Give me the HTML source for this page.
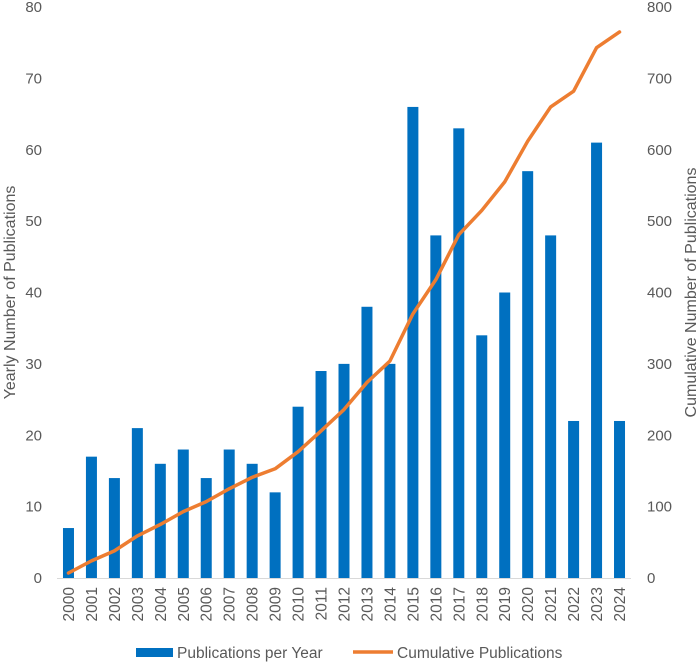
<!DOCTYPE html>
<html><head><meta charset="utf-8"><style>
body{margin:0;background:#fff}
svg text{font-family:"Liberation Sans",sans-serif;fill:#595959}
</style></head><body>
<svg id="c" width="700" height="662"></svg>
<script>
const years=["2000","2001","2002","2003","2004","2005","2006","2007","2008","2009","2010","2011","2012","2013","2014","2015","2016","2017","2018","2019","2020","2021","2022","2023","2024"];
const yearly=[7,17,14,21,16,18,14,18,16,12,24,29,30,38,30,66,48,63,34,40,57,48,22,61,22];
const cumulative=[7,24,38,59,75,93,107,125,141,153,177,206,236,274,304,370,418,481,515,555,612,660,682,743,765];
const leftTicks=[0,10,20,30,40,50,60,70,80];
const rightTicks=[0,100,200,300,400,500,600,700,800];
const NS="http://www.w3.org/2000/svg";
const svg=document.getElementById('c');
const L=57,R=631,T=7,B=578;
const bw=(R-L)/years.length;
const xc=i=>L+bw*(i+0.5);
const yl=v=>B-(B-T)*v/80;
const yr=v=>B-(B-T)*v/800;
function mk(t,a,txt){const e=document.createElementNS(NS,t);for(const k in a)e.setAttribute(k,a[k]);if(txt!==undefined)e.textContent=txt;svg.appendChild(e);return e;}
leftTicks.forEach(v=>{const e=mk('text',{x:42,y:yl(v)+5,'text-anchor':'end','font-size':15},v);

});
rightTicks.forEach(v=>{const e=mk('text',{x:647,y:yr(v)+5,'text-anchor':'start','font-size':15},v);

});
yearly.forEach((v,i)=>{const e=mk('rect',{x:xc(i)-5.5,y:yl(v),width:11,height:B-yl(v),fill:'#0070C0'});

});
const ax=mk('line',{x1:L,x2:R,y1:B+0.5,y2:B+0.5,stroke:'#D9D9D9','stroke-width':1});


const pl=mk('polyline',{points:cumulative.map((v,i)=>xc(i)+','+yr(v)).join(' '),fill:'none',stroke:'#ED7D31','stroke-width':3.5,'stroke-linejoin':'round','stroke-linecap':'round'});


years.forEach((y,i)=>{const e=mk('text',{x:0,y:0,'text-anchor':'end','font-size':15.5,transform:`translate(${xc(i)+5.5},${B+9}) rotate(-90)`},y);

});
let t=mk('text',{x:0,y:0,'text-anchor':'middle','font-size':16,transform:`translate(15,${(T+B)/2}) rotate(-90)`},'Yearly Number of Publications');


t=mk('text',{x:0,y:0,'text-anchor':'middle','font-size':16,transform:`translate(696,${(T+B)/2}) rotate(-90)`},'Cumulative Number of Publications');


let g=mk('rect',{x:136,y:648,width:37,height:9,fill:'#0070C0'});


t=mk('text',{x:177,y:658,'font-size':15.5},'Publications per Year');


g=mk('line',{x1:353,x2:393,y1:652,y2:652,stroke:'#ED7D31','stroke-width':3.5});


t=mk('text',{x:397,y:658,'font-size':15.5},'Cumulative Publications');


</script>
</body></html>
